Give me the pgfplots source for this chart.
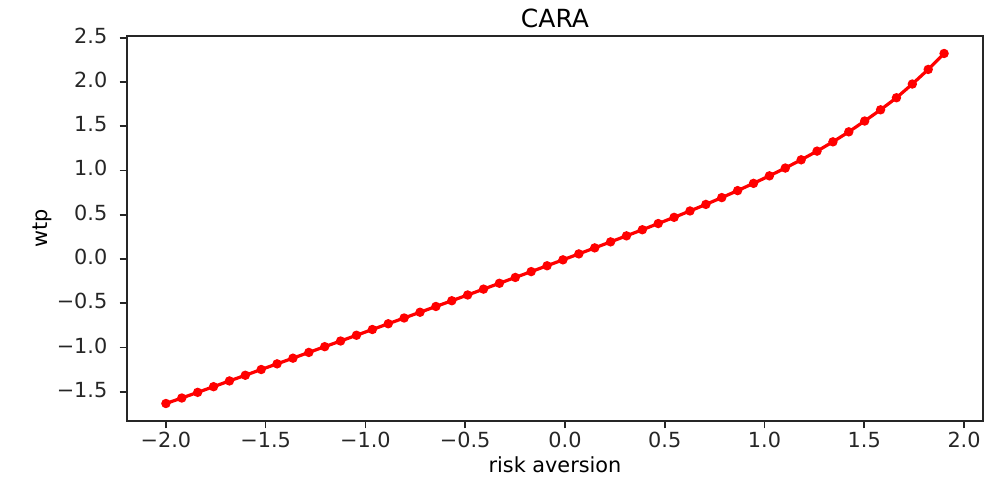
\documentclass[border=0pt]{standalone}
\usepackage{fontspec}
\setmainfont{DejaVu Sans}
\usepackage{pgfplots}
\pgfplotsset{compat=1.18}
\pgfplotstableread{
x y
-2.0000 -1.632
-1.9204 -1.570
-1.8408 -1.506
-1.7612 -1.442
-1.6816 -1.377
-1.6020 -1.313
-1.5224 -1.248
-1.4429 -1.184
-1.3633 -1.120
-1.2837 -1.055
-1.2041 -0.990
-1.1245 -0.926
-1.0449 -0.861
-0.9653 -0.796
-0.8857 -0.731
-0.8061 -0.666
-0.7265 -0.601
-0.6469 -0.536
-0.5673 -0.471
-0.4878 -0.406
-0.4082 -0.340
-0.3286 -0.274
-0.2490 -0.208
-0.1694 -0.142
-0.0898 -0.076
-0.0102 -0.009
0.0694 0.058
0.1490 0.126
0.2286 0.194
0.3082 0.262
0.3878 0.331
0.4673 0.401
0.5469 0.471
0.6265 0.543
0.7061 0.617
0.7857 0.694
0.8653 0.773
0.9449 0.855
1.0245 0.940
1.1041 1.028
1.1837 1.121
1.2633 1.219
1.3429 1.324
1.4224 1.437
1.5020 1.559
1.5816 1.686
1.6612 1.822
1.7408 1.977
1.8204 2.142
1.9000 2.322
}\wtpdata
\begin{document}
\begin{tikzpicture}[font=\fontsize{10.4pt}{12.5pt}\selectfont]
\path[use as bounding box] (0,0) rectangle (492.5pt,238.5pt);
\begin{axis}[
  at={(63.5pt,28pt)}, anchor=south west,
  scale only axis, width=428pt, height=192.5pt,
  xmin=-2.195, xmax=2.095, ymin=-1.8297, ymax=2.5197,
  xtick={-2,-1.5,-1,-0.5,0,0.5,1,1.5,2},
  xticklabels={−2.0,−1.5,−1.0,−0.5,0.0,0.5,1.0,1.5,2.0},
  ytick={-1.5,-1,-0.5,0,0.5,1,1.5,2,2.5},
  yticklabels={−1.5,−1.0,−0.5,0.0,0.5,1.0,1.5,2.0,2.5},
  tick align=outside, major tick length=3.65pt,
  xtick pos=bottom, ytick pos=left,
  axis line style={line width=0.8pt, black!85},
  every tick/.style={line width=0.8pt, black!85},
  tick label style={font=\fontsize{10.4pt}{12.5pt}\selectfont, text=black!85},
  xticklabel style={anchor=base, inner sep=0pt, yshift=-9.75pt},
  yticklabel style={anchor=mid east, inner sep=0pt, xshift=-6pt},
  title={CARA},
  title style={at={(axis description cs:0.5,1)}, anchor=base, inner sep=0pt, yshift=-2pt, font=\fontsize{12.5pt}{15pt}\selectfont},
  xlabel={risk aversion},
  xlabel style={at={(axis description cs:0.5,0)}, anchor=base, inner sep=0pt, yshift=-25.5pt},
  ylabel={wtp},
  ylabel style={at={(axis description cs:0,0.5)}, anchor=center, inner sep=0pt, yshift=42.5pt},
  clip=false,
]
\addplot[red, line width=1.6pt, mark=*, mark size=1.5pt, mark options={solid, fill=red, draw=none}] table[x=x, y=y] {\wtpdata};
\end{axis}
\end{tikzpicture}
\end{document}
